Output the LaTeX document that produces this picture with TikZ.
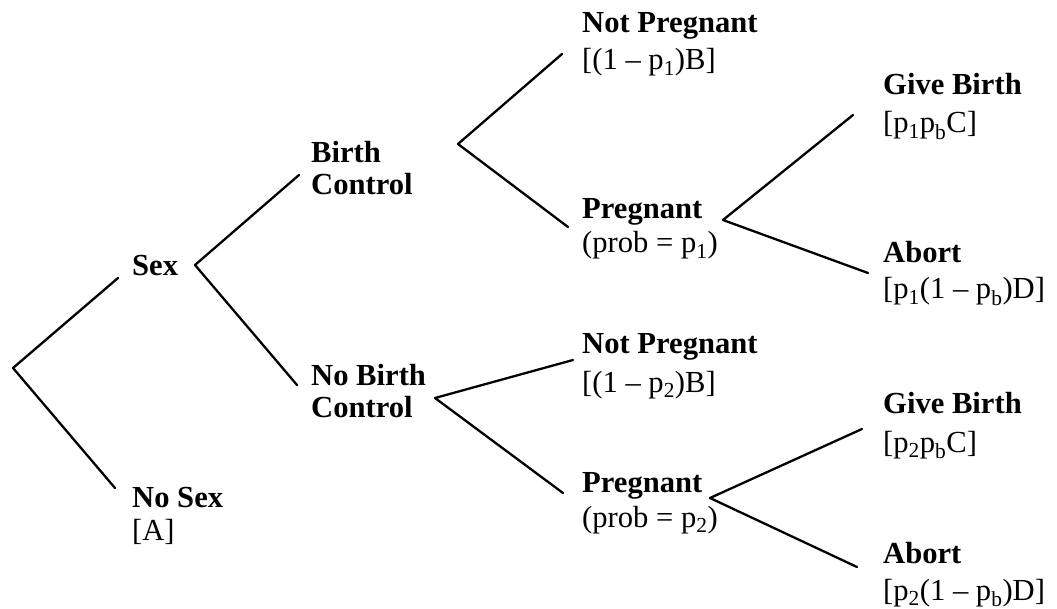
\documentclass[tikz,border=0pt]{standalone}
\usepackage{fontspec}
\setmainfont{Liberation Serif}
\begin{document}
\begin{tikzpicture}[x=1pt,y=-1pt,
  lab/.style={anchor=base west,inner sep=0pt,font=\fontsize{30.6}{36}\selectfont\bfseries},
  val/.style={anchor=base west,inner sep=0pt,font=\fontsize{30.6}{36}\selectfont},
  branch/.style={line width=2.3pt,line cap=round,line join=round}]
\useasboundingbox (0,0) rectangle (1057,609);
% labels
\node[lab] (sex) at (132,276) {Sex};
\node[lab] (nosex) at (132,507) {No Sex};
\node[val] (nosexv) at (132,540) {[A]};
\node[lab] (bc1) at (311,163) {Birth};
\node[lab] (bc2) at (311,195) {Control};
\node[lab] (nbc1) at (311,385) {No Birth};
\node[lab] (nbc2) at (311,417) {Control};
\node[lab] (np1) at (582,33) {Not Pregnant};
\node[val] (np1v) at (582,70) {[(1 – p\textsubscript{1})B]};
\node[lab] (pr1) at (582,219) {Pregnant};
\node[val] (pr1v) at (582,253) {(prob = p\textsubscript{1})};
\node[lab] (np2) at (582,353) {Not Pregnant};
\node[val] (np2v) at (582,392) {[(1 – p\textsubscript{2})B]};
\node[lab] (pr2) at (582,492) {Pregnant};
\node[val] (pr2v) at (582,527) {(prob = p\textsubscript{2})};
\node[lab] (gb1) at (883,95) {Give Birth};
\node[val] (gb1v) at (883,133) {[p\textsubscript{1}p\textsubscript{b}C]};
\node[lab] (ab1) at (883,263) {Abort};
\node[val] (ab1v) at (883,299) {[p\textsubscript{1}(1 – p\textsubscript{b})D]};
\node[lab] (gb2) at (883,413) {Give Birth};
\node[val] (gb2v) at (883,452) {[p\textsubscript{2}p\textsubscript{b}C]};
\node[lab] (ab2) at (883,563) {Abort};
\node[val] (ab2v) at (883,600) {[p\textsubscript{2}(1 – p\textsubscript{b})D]};
% branch points and ends
\coordinate (root) at (13,368);
\coordinate (toSex) at (118,278);
\coordinate (toNoSex) at (115,488);
\coordinate (vSex) at (195,265);
\coordinate (toBC) at (299,175);
\coordinate (toNBC) at (297,385);
\coordinate (vBC) at (458,144);
\coordinate (toNP1) at (562,54);
\coordinate (toPR1) at (568,227);
\coordinate (vPR1) at (723,220);
\coordinate (toGB1) at (853,115);
\coordinate (toAB1) at (868,273);
\coordinate (vNBC) at (435,398);
\coordinate (toNP2) at (573,360);
\coordinate (toPR2) at (563,493);
\coordinate (vPR2) at (710,498);
\coordinate (toGB2) at (862,429);
\coordinate (toAB2) at (857,567);
% branches
\draw[branch] (toSex) -- (root) -- (toNoSex);
\draw[branch] (toBC) -- (vSex) -- (toNBC);
\draw[branch] (toNP1) -- (vBC) -- (toPR1);
\draw[branch] (toGB1) -- (vPR1) -- (toAB1);
\draw[branch] (toNP2) -- (vNBC) -- (toPR2);
\draw[branch] (toGB2) -- (vPR2) -- (toAB2);
\end{tikzpicture}
\end{document}
